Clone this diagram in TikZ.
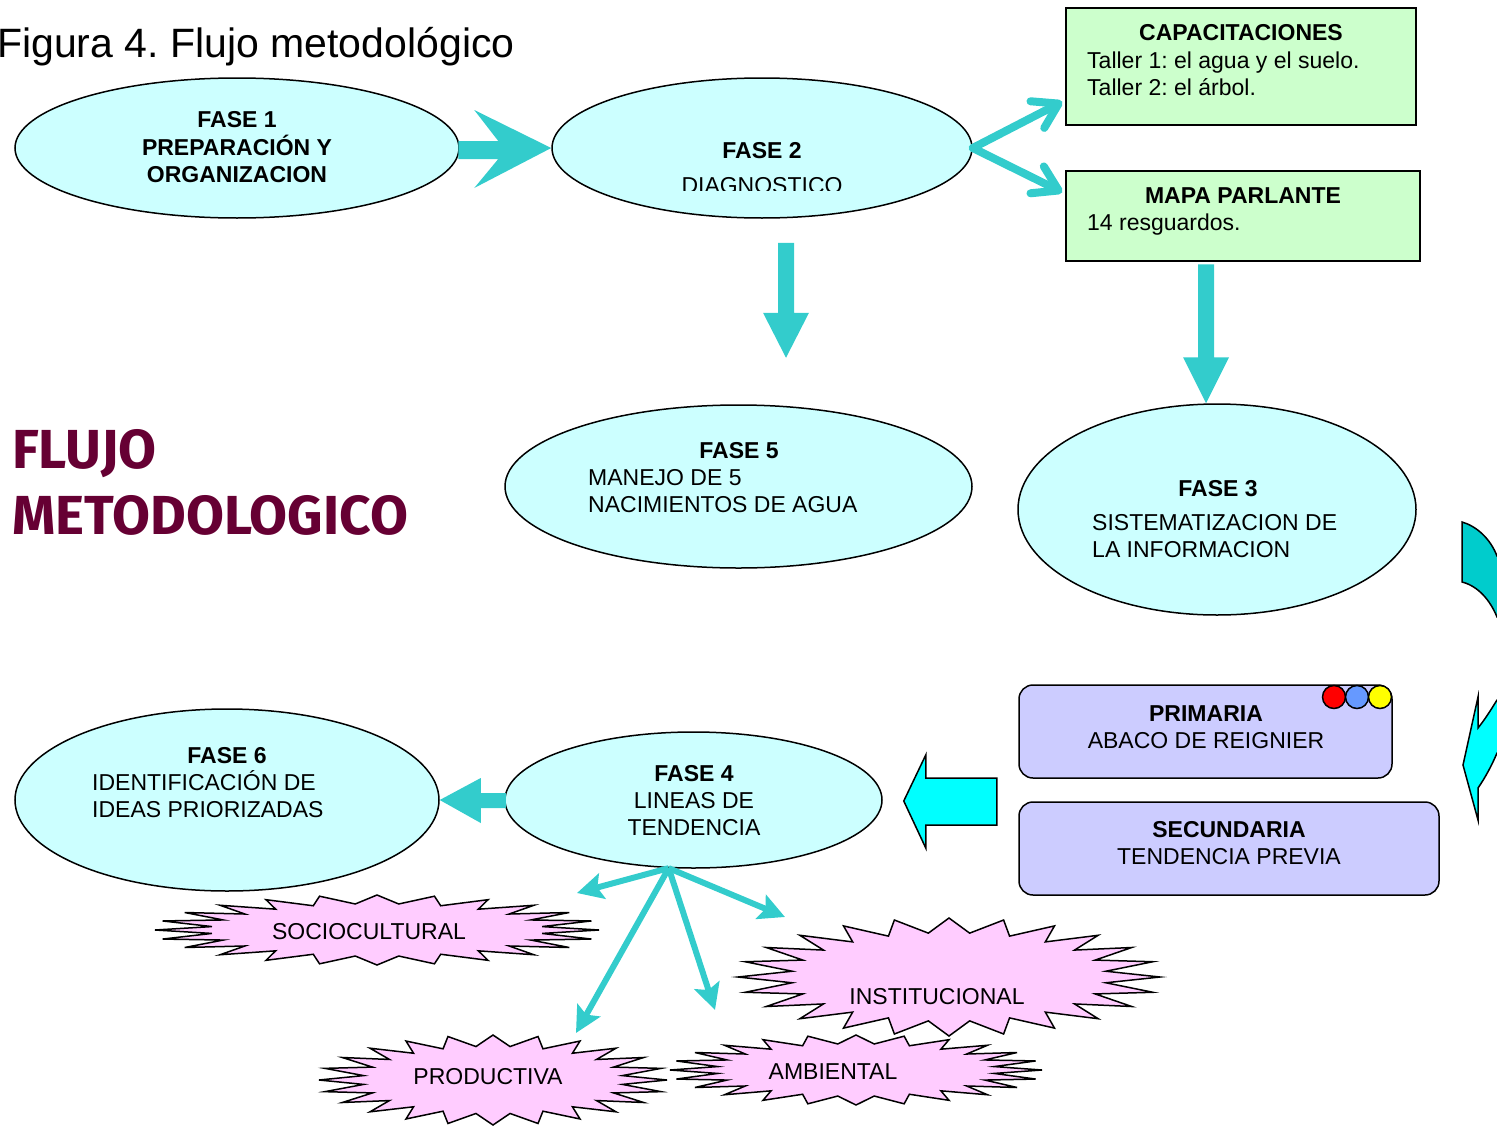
\documentclass[tikz,border=0pt]{standalone}
\usepackage{fontspec}
\setmainfont{Liberation Sans}
\newfontfamily\flujofont{Fira Sans}
\usetikzlibrary{shapes.geometric,arrows.meta,calc}
\frenchspacing

\definecolor{fasefill}{HTML}{CCFFFF}
\definecolor{boxgreen}{HTML}{CCFFCC}
\definecolor{boxlav}{HTML}{CCCCFF}
\definecolor{burstpink}{HTML}{FFCCFF}
\definecolor{arrowteal}{HTML}{33CCCC}
\definecolor{bigcyan}{HTML}{00FFFF}
\definecolor{curveteal}{HTML}{00CCCC}
\definecolor{flujored}{HTML}{660033}
\definecolor{dotblue}{HTML}{6699FF}
\definecolor{dotred}{HTML}{FF0000}
\definecolor{dotyellow}{HTML}{FFFF00}

\newcommand{\txtlines}[2][l]{\begin{tabular}[t]{@{}#1@{}}#2\end{tabular}}

\begin{document}
\begin{tikzpicture}[x=1pt,y=-1pt,
  fase/.style={ellipse, draw, line width=1.5pt, fill=fasefill, inner sep=0},
  box/.style={rectangle, draw, line width=1.5pt, inner sep=0},
  lbl/.style={inner sep=0, anchor=base, font=\fontsize{23}{27}\selectfont},
  lblb/.style={lbl, font=\fontsize{23}{27}\selectfont\bfseries},
  blockarrow/.style={fill=arrowteal},
  burst/.style={draw, line width=1.5pt, fill=burstpink, line join=miter},
  fan/.style={draw=arrowteal, line width=6pt, -{Stealth[length=26pt,width=26pt,inset=5pt]}},
  barb/.style={draw=arrowteal, line width=8pt, line cap=round, -{Straight Barb[length=24pt,width=30pt,round]}},
  dot/.style={circle, draw, line width=1.5pt, minimum size=23pt, inner sep=0}]
\useasboundingbox (0,0) rectangle (1497,1127);
\clip (0,0) rectangle (1497,1127);

% titles
\node[inner sep=0, anchor=base west, font=\fontsize{41}{49}\selectfont] (title) at (-3,57) {Figura 4. Flujo metodológico};
\node[inner sep=0, anchor=base west, text=flujored, font=\flujofont\fontsize{55}{66}\selectfont\bfseries] (flujo) at (12,468) {\txtlines{FLUJO\\METODOLOGICO}};

% fases
\node[fase, minimum width=444, minimum height=140] (f1) at (237,148) {};
\node[fase, minimum width=420, minimum height=140] (f2) at (762,148) {};
\node[fase, minimum width=467, minimum height=163] (f5) at (738.5,486.5) {};
\node[fase, minimum width=398, minimum height=211] (f3) at (1217,509.5) {};
\node[fase, minimum width=424, minimum height=182] (f6) at (227,800) {};
\node[fase, minimum width=377, minimum height=136] (f4) at (693.5,800) {};

% boxes
\node[box, fill=boxgreen, minimum width=350, minimum height=117] (cap) at (1241,66.5) {};
\node[box, fill=boxgreen, minimum width=354, minimum height=90] (mapa) at (1243,216) {};
\node[box, fill=boxlav, rounded corners=14pt, minimum width=373, minimum height=93] (prim) at (1205.5,731.5) {};
\node[box, fill=boxlav, rounded corners=14pt, minimum width=420, minimum height=93] (secu) at (1229,848.5) {};
\foreach \c [count=\i] in {dotred,dotblue,dotyellow}
	\node[dot, fill=\c] (dot\i) at (1311+23*\i,697) {};

% texts
\node[lblb] (f1txt) at (237,127) {\txtlines[c]{FASE 1\\PREPARACIÓN Y\\ORGANIZACION}};
\node[lblb] (f2txt) at (762,158) {FASE 2};
\begin{scope}
	\clip (600,160) rectangle (900,190);
	\node[lbl] (f2sub) at (762,193) {DIAGNOSTICO};
\end{scope}
\node[lblb] (captxt) at (1241,40) {CAPACITACIONES};
\node[lbl, anchor=base west] (capsub) at (1087,68) {\txtlines{Taller 1: el agua y el suelo.\\Taller 2: el árbol.}};
\node[lblb] (mapatxt) at (1243,203) {MAPA PARLANTE};
\node[lbl, anchor=base west] (mapasub) at (1087,230) {14 resguardos.};
\node[lblb] (f5txt) at (739,458) {FASE 5};
\node[lbl, anchor=base west] (f5sub) at (588,485) {\txtlines{MANEJO DE 5\\NACIMIENTOS DE AGUA}};
\node[lblb] (f3txt) at (1218,496) {FASE 3};
\node[lbl, anchor=base west] (f3sub) at (1092,530) {\txtlines{SISTEMATIZACION DE\\LA INFORMACION}};
\node[lblb] (f6txt) at (227,763) {FASE 6};
\node[lbl, anchor=base west] (f6sub) at (92,790) {\txtlines{IDENTIFICACIÓN DE\\IDEAS PRIORIZADAS}};
\node[lbl] (f4txt) at (694,781) {\txtlines[c]{\textbf{FASE 4}\\LINEAS DE\\TENDENCIA}};
\node[lbl] (primtxt) at (1206,721) {\txtlines[c]{\textbf{PRIMARIA}\\ABACO DE REIGNIER}};
\node[lbl] (secutxt) at (1229,837) {\txtlines[c]{\textbf{SECUNDARIA}\\TENDENCIA PREVIA}};

% block arrows
\fill[blockarrow] (f2.west) -- ++(-77,-38) -- ++(24,31) -- ++(-40,0) -- ++(0,18) -- ++(40,0) -- ++(-24,29) -- cycle;
\fill[blockarrow] ($(f2.south)+(24,139)$) -- ++(-23,-45) -- ++(15,0) -- ++(0,-70) -- ++(16,0) -- ++(0,70) -- ++(15,0) -- cycle;
\fill[blockarrow] ($(f3.north)+(-11,0)$) -- ++(-23,-46) -- ++(15,0) -- ++(0,-93) -- ++(16,0) -- ++(0,93) -- ++(15,0) -- cycle;
\fill[blockarrow] (f6.east) -- ++(41,-22) -- ++(0,15) -- ++(25,0) -- ++(0,15) -- ++(-25,0) -- ++(0,15) -- cycle;
\filldraw[fill=bigcyan, line width=1.5pt] ($(f4.east)+(21,1)$) -- ++(22,-46) -- ++(0,23) -- ++(71,0) -- ++(0,47) -- ++(-71,0) -- ++(0,23) -- cycle;

\draw[barb] (f2.east) -- ($(cap.south west)+(-3,-24)$);
\draw[barb] (f2.east) -- ($(mapa.north west)+(-3,22)$);

% curved arrows cut by the edge
\filldraw[fill=curveteal, line width=1.5pt] (1462,522) .. controls (1476,526) and (1490,538) .. (1497,556) -- (1505,556) -- (1505,617) -- (1497,617) .. controls (1490,600) and (1478,586) .. (1462,582) -- cycle;
\filldraw[fill=bigcyan, line width=1.5pt] (1478,697) -- (1463,765) -- (1478,820) -- (1478,788) .. controls (1485,778) and (1492,765) .. (1497,753) -- (1505,753) -- (1505,700) -- (1497,700) .. controls (1492,708) and (1486,718) .. (1478,728) -- cycle;

% lineas de tendencia
\foreach \cx/\cy/\rx/\ry/\tx/\ty/\nm/\wtxt in {
	377/930/222/35/369/939/soc/SOCIOCULTURAL,
	856/1070/186/35/833/1079/amb/AMBIENTAL,
	493/1080/174/45/488/1084/prod/PRODUCTIVA,
	949/977/211/59/937/1004/inst/INSTITUCIONAL}
{
	\draw[burst] ({\cx+\rx},\cy) \foreach \k in {1,...,47} { -- ({\cx+(1-0.25*mod(\k,2))*\rx*cos(\k*7.5)},{\cy+(1-0.25*mod(\k,2))*\ry*sin(\k*7.5)}) } -- cycle;
	\node[lbl] (\nm) at (\tx,\ty) {\wtxt};
}

\coordinate (fanroot) at (f4.250);
\coordinate (tipsoc) at (577,893);
\coordinate (tipprod) at (576,1033);
\coordinate (tipamb) at (715,1010);
\coordinate (tipinst) at (785,917);
\foreach \t in {tipsoc,tipprod,tipamb,tipinst}
	\draw[fan] (fanroot) -- (\t);
\end{tikzpicture}
\end{document}
